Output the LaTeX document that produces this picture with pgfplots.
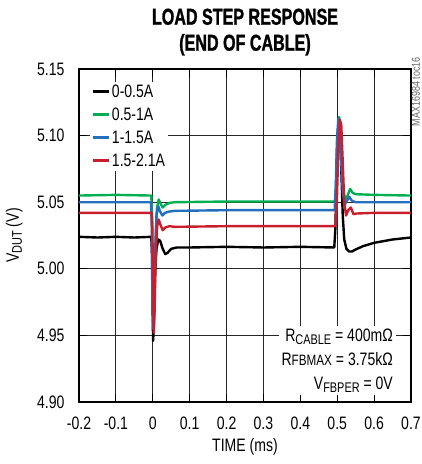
\documentclass[border=0pt]{standalone}
\usepackage{fontspec}
\setmainfont{Liberation Sans}[FakeStretch=0.78]
\newfontfamily\titlefont{Liberation Sans}[FakeStretch=0.70, BoldFeatures={FakeBold=1.2}]
\usepackage{pgfplots}
\pgfplotsset{compat=1.18}
\definecolor{cgreen}{RGB}{0,175,80}
\definecolor{cblue}{RGB}{35,110,190}
\definecolor{cred}{RGB}{200,30,45}
\newcommand\fs[1]{\fontsize{#1}{#1}\selectfont}
\newcommand\sub[1]{\raisebox{-0.3ex}{\fs{14}#1}}

\begin{document}
\begin{tikzpicture}
\path[use as bounding box] (-79pt,-62pt) rectangle (343pt,402pt);
\begin{axis}[
    at={(0pt,0pt)}, anchor=south west,
    scale only axis, width=332pt, height=333pt,
    xmin=-0.2, xmax=0.7, ymin=4.90, ymax=5.15,
    xtick={-0.2,-0.1,0,0.1,0.2,0.3,0.4,0.5,0.6,0.7},
    ytick={4.90,4.95,5.00,5.05,5.10,5.15},
    /pgf/number format/assume math mode=true,
    xticklabel style={font=\fs{18}, /pgf/number format/fixed, /pgf/number format/precision=1, yshift=-11pt},
    yticklabel style={font=\fs{18}, /pgf/number format/fixed, /pgf/number format/fixed zerofill, /pgf/number format/precision=2, xshift=-11pt},
    grid=major,
    major grid style={line width=0.9pt, black!85},
    axis line style={line width=2.6pt},
    tick align=inside, major tick length=8pt,
    tick style={line width=0.9pt, black},
    xlabel={TIME (ms)},
    ylabel={V\sub{DUT} (V)},
    xlabel style={font=\fs{18}, at={(axis description cs:0.5,-0.135)}, anchor=center},
    ylabel style={font=\fs{18}, at={(axis description cs:-0.195,0.5)}, anchor=center},
    title={LOAD STEP RESPONSE\\(END OF CABLE)},
    title style={font=\titlefont\bfseries\fontsize{23}{26}\selectfont, align=center, at={(0.5,1)}, anchor=south, yshift=4pt},
    legend style={at={(0.033,0.963)}, anchor=north west, draw=none, fill=white,
        font=\fs{18}, inner sep=1pt, row sep=5pt},
    legend cell align=left,
    legend image code/.code={\draw[#1, line width=2.8pt] (0pt,0pt) -- (16pt,0pt);},
    every axis plot/.append style={line width=2.4pt, line join=round, no markers},
]

\addplot[black] coordinates {
(-0.2,5.024)(-0.15,5.0235)(-0.1,5.024)(-0.05,5.0235)(-0.004,5.024)(-0.002,5.010)
(0.000,4.960)(0.001,4.946)(0.003,4.960)(0.006,4.995)(0.010,5.015)(0.015,5.022)
(0.020,5.021)(0.027,5.015)(0.034,5.011)(0.040,5.012)(0.050,5.015)(0.065,5.016)
(0.1,5.016)(0.2,5.0165)(0.3,5.016)(0.4,5.0165)(0.492,5.016)(0.495,5.030)
(0.499,5.080)(0.503,5.108)(0.507,5.106)(0.511,5.075)(0.515,5.040)(0.519,5.022)
(0.525,5.015)(0.532,5.013)(0.540,5.013)(0.55,5.0145)(0.57,5.017)(0.6,5.0195)
(0.65,5.022)(0.7,5.0235)
};
\addlegendentry{0-0.5A}

\addplot[cgreen] coordinates {
(-0.2,5.055)(-0.1,5.0555)(-0.004,5.055)(-0.002,5.040)(0.000,4.975)(0.002,4.958)
(0.004,4.975)(0.007,5.015)(0.011,5.045)(0.016,5.052)(0.021,5.049)(0.027,5.046)
(0.034,5.048)(0.045,5.0495)(0.06,5.050)(0.2,5.0505)(0.35,5.0505)(0.494,5.0505)
(0.497,5.065)(0.501,5.100)(0.505,5.114)(0.508,5.110)(0.512,5.085)(0.516,5.060)
(0.521,5.052)(0.528,5.055)(0.535,5.060)(0.542,5.057)(0.55,5.056)(0.6,5.0555)
(0.7,5.055)
};
\addlegendentry{0.5-1A}

\addplot[cblue] coordinates {
(-0.2,5.050)(-0.1,5.050)(-0.005,5.050)(-0.003,5.035)(-0.001,4.975)(0.001,4.955)
(0.003,4.970)(0.006,5.010)(0.010,5.040)(0.015,5.047)(0.020,5.043)(0.026,5.040)
(0.033,5.042)(0.045,5.043)(0.06,5.0435)(0.2,5.044)(0.35,5.044)(0.493,5.044)
(0.496,5.060)(0.499,5.095)(0.503,5.113)(0.506,5.108)(0.510,5.085)(0.515,5.058)
(0.520,5.048)(0.526,5.051)(0.533,5.054)(0.540,5.051)(0.55,5.050)(0.6,5.050)
(0.7,5.050)
};
\addlegendentry{1-1.5A}

\addplot[cred] coordinates {
(-0.2,5.042)(-0.1,5.042)(-0.003,5.042)(-0.001,5.030)(0.001,4.975)(0.003,4.952)
(0.005,4.970)(0.008,5.010)(0.012,5.032)(0.016,5.037)(0.021,5.033)(0.027,5.029)
(0.034,5.031)(0.045,5.032)(0.06,5.0315)(0.2,5.032)(0.35,5.032)(0.496,5.032)
(0.499,5.050)(0.503,5.090)(0.507,5.112)(0.511,5.108)(0.515,5.080)(0.519,5.050)
(0.524,5.040)(0.530,5.044)(0.537,5.046)(0.544,5.041)(0.552,5.0415)(0.6,5.042)
(0.7,5.042)
};
\addlegendentry{1.5-2.1A}

\node[anchor=south east, fill=white, align=right, font=\fontsize{18}{24}\selectfont, inner sep=3pt]
  at (rel axis cs:0.955,0.02)
  {R\sub{CABLE} = 400mΩ\\R{\fs{15}FBMAX} = 3.75kΩ\\V\sub{FBPER} = 0V};
\end{axis}
\node[rotate=90, anchor=east, font=\fs{11.5}, text=black!60, inner sep=0pt]
  at (337pt,345pt) {MAX16984 toc16};
\end{tikzpicture}
\end{document}
